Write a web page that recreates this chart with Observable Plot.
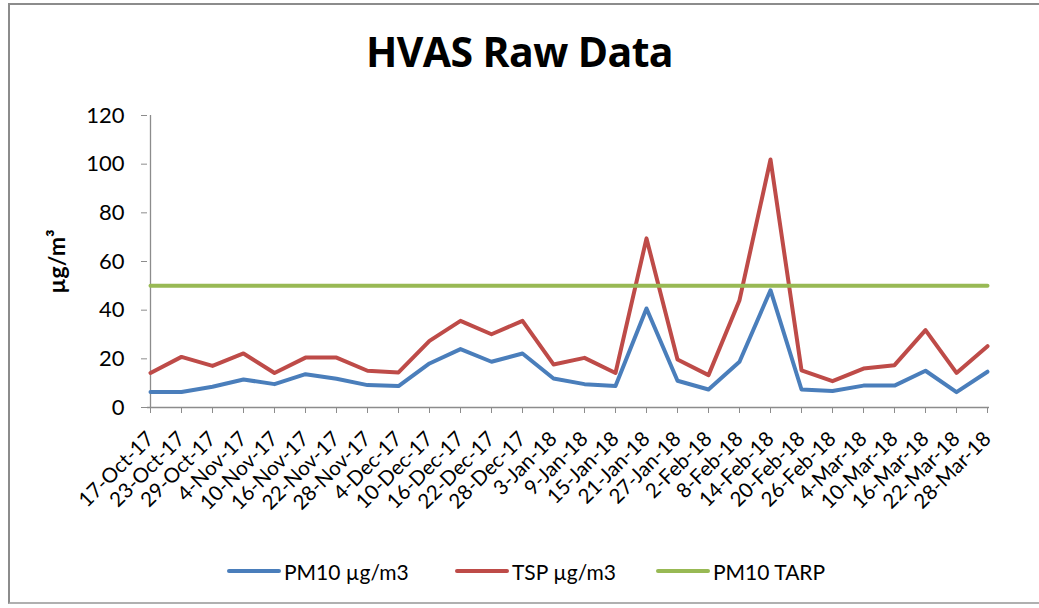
<!DOCTYPE html>
<html>
<head>
<meta charset="utf-8">
<script src="https://cdn.jsdelivr.net/npm/d3@7"></script>
<script src="https://cdn.jsdelivr.net/npm/@observablehq/plot@0.6"></script>
<style>
  html, body { margin: 0; padding: 0; background: #fff; }
  #frame {
    position: relative; width: 1031px; height: 601px; margin-left: 8px; margin-top: 3px;
    border-top: 2px solid #8c8c8c; border-left: 2px solid #8c8c8c; border-bottom: 2px solid #b0b0b0;
    box-sizing: border-box; font-family: Lato, "Open Sans", sans-serif;
  }
  #title {
    position: absolute; left: -10px; width: 1039px; top: 26px; text-align: center; line-height: 41px;
    font-weight: bold; font-size: 41px; color: #000; font-family: "Open Sans", Lato, sans-serif; letter-spacing: -0.6px;
  }
  #chart { position: absolute; left: -10px; top: -5px; }
  #legend { position: absolute; left: -10px; top: -5px; width: 1039px; height: 608px; pointer-events: none; }
  .item { position: absolute; top: 557px; height: 28px; display: flex; align-items: center; font-size: 21px; color: #000; white-space: nowrap; }
  .sw { width: 54px; height: 4px; border-radius: 2px; margin-right: 3px; }
</style>
</head>
<body>
<div id="frame">
  <div id="title">HVAS Raw Data</div>
  <div id="chart"></div>
  <div id="legend"></div>
</div>
<script>
const dates = ["17-Oct-17","23-Oct-17","29-Oct-17","4-Nov-17","10-Nov-17","16-Nov-17","22-Nov-17","28-Nov-17","4-Dec-17","10-Dec-17","16-Dec-17","22-Dec-17","28-Dec-17","3-Jan-18","9-Jan-18","15-Jan-18","21-Jan-18","27-Jan-18","2-Feb-18","8-Feb-18","14-Feb-18","20-Feb-18","26-Feb-18","4-Mar-18","10-Mar-18","16-Mar-18","22-Mar-18","28-Mar-18"];
const pm10 = [6.4,6.4,8.5,11.5,9.6,13.7,11.8,9.2,8.8,18.1,24.0,18.8,22.2,11.9,9.6,8.8,40.7,11.0,7.4,18.8,48.2,7.4,6.8,9.0,9.0,15.1,6.3,14.7];
const tsp = [14.2,20.8,17.1,22.2,14.2,20.5,20.5,15.1,14.4,27.4,35.6,30.1,35.6,17.7,20.4,14.2,69.5,19.7,13.3,44.1,101.9,15.3,10.8,16.0,17.4,31.8,14.2,25.2];
const tarp = [50,50,50,50,50,50,50,50,50,50,50,50,50,50,50,50,50,50,50,50,50,50,50,50,50,50,50,50];
const yTicks = [0,20,40,60,80,100,120];
const seriesNames = ["PM10 µg/m3","TSP µg/m3","PM10 TARP"];
const colors = ["#4A7EBB","#BE4B48","#98B954"];
const legendLeft = [227, 455, 656];
const yLabel = "µg/m³";

const rows = (vals) => dates.map((d, i) => ({date: d, value: vals[i]}));

const chart = Plot.plot({
  width: 1039,
  height: 540,
  marginTop: 115,
  marginLeft: 147,
  marginRight: 50,
  marginBottom: 133,
  style: {fontFamily: "Lato, 'Open Sans', sans-serif", fontSize: "20px", color: "#000", background: "transparent"},
  x: {type: "point", domain: dates, padding: 0},
  y: {domain: [0, 120]},
  marks: [
    Plot.ruleY([0], {stroke: "#8c8c8c", strokeWidth: 1.3}),
    Plot.ruleX([dates[0]], {y1: 0, y2: 120, stroke: "#8c8c8c", strokeWidth: 1.3}),
    Plot.axisY({ticks: yTicks, tickSize: 6, tickPadding: 17, fontSize: 22, stroke: "#8c8c8c", label: null}),
    Plot.axisX({tickRotate: -45, tickSize: 6, tickPadding: 22, fontSize: 20.5, stroke: "#8c8c8c", label: null}),
    Plot.text([yLabel], {frameAnchor: "left", textAnchor: "middle", dx: -90, rotate: -90, fontWeight: "bold", fontSize: 23, text: d => d}),
    Plot.line(rows(pm10), {x: "date", y: "value", stroke: colors[0], strokeWidth: 4, strokeLinejoin: "round"}),
    Plot.line(rows(tsp), {x: "date", y: "value", stroke: colors[1], strokeWidth: 4, strokeLinejoin: "round"}),
    Plot.line(rows(tarp), {x: "date", y: "value", stroke: colors[2], strokeWidth: 4})
  ]
});
document.getElementById("chart").appendChild(chart);

const legend = document.getElementById("legend");
seriesNames.forEach((name, i) => {
  const it = document.createElement("div");
  it.className = "item";
  it.style.left = legendLeft[i] + "px";
  const sw = document.createElement("div");
  sw.className = "sw";
  sw.style.background = colors[i];
  const t = document.createElement("span");
  t.textContent = name;
  it.appendChild(sw); it.appendChild(t);
  legend.appendChild(it);
});
</script>
</body>
</html>
